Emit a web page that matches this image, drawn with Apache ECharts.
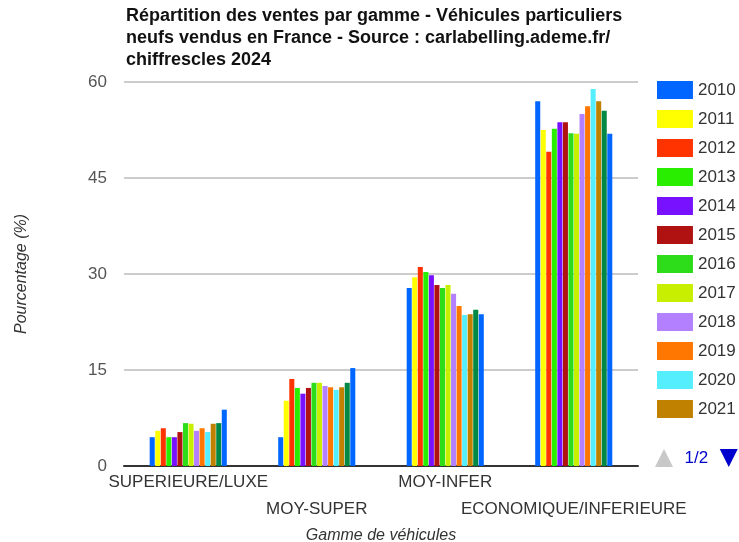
<!DOCTYPE html>
<html>
<head>
<meta charset="utf-8">
<script src="https://cdn.jsdelivr.net/npm/echarts@6/dist/echarts.min.js"></script>
<style>
  html, body { margin: 0; padding: 0; background: #fff; }
  #chart { width: 739px; height: 542px; }
</style>
</head>
<body>
<div id="chart"></div>
<script>
// gammes de véhicules
const categories = ['SUPERIEURE/LUXE', 'MOY-SUPER', 'MOY-INFER', 'ECONOMIQUE/INFERIEURE'];
const years = ['2010', '2011', '2012', '2013', '2014', '2015', '2016', '2017', '2018', '2019', '2020', '2021', '2022', '2023'];

// parts (%) par gamme, une liste par année
const v2010 = [4.5, 4.5, 27.8, 57.0];
const v2011 = [5.5, 10.2, 29.5, 52.5];
const v2012 = [5.9, 13.6, 31.1, 49.1];
const v2013 = [4.5, 12.2, 30.3, 52.7];
const v2014 = [4.5, 11.3, 29.8, 53.7];
const v2015 = [5.3, 12.2, 28.3, 53.7];
const v2016 = [6.7, 13.0, 27.8, 52.0];
const v2017 = [6.6, 13.0, 28.3, 51.9];
const v2018 = [5.5, 12.5, 26.9, 55.0];
const v2019 = [5.9, 12.3, 25.0, 56.2];
const v2020 = [5.3, 11.9, 23.6, 58.9];
const v2021 = [6.6, 12.3, 23.7, 57.0];
const v2022 = [6.7, 13.0, 24.4, 55.5];
const v2023 = [8.8, 15.3, 23.7, 51.9];
const values = [v2010, v2011, v2012, v2013, v2014, v2015, v2016, v2017, v2018, v2019, v2020, v2021, v2022, v2023];

const colors = ['#0066ff', '#ffff00', '#ff3300', '#2aee00', '#7711ff', '#b01111', '#2ddd1a',
  '#c8ee00', '#b380ff', '#ff7700', '#55eeff', '#c08000', '#008844'];

const chart = echarts.init(document.getElementById('chart'));

chart.setOption({
  color: colors,
  textStyle: { fontFamily: 'Liberation Sans, Arial, sans-serif' },
  title: {
    text: 'Répartition des ventes par gamme - Véhicules particuliers\nneufs vendus en France - Source : carlabelling.ademe.fr/\nchiffrescles 2024',
    left: 121,
    top: 0,
    textStyle: { fontSize: 18, fontWeight: 'bold', color: '#111', lineHeight: 22 }
  },
  legend: {
    type: 'scroll',
    orient: 'vertical',
    left: 655,
    top: 81,
    height: 386,
    padding: 0,
    itemWidth: 36,
    itemHeight: 18,
    itemGap: 11,
    icon: 'rect',
    textStyle: { fontSize: 17, color: '#333' },
    pageIconColor: '#0000cc',
    pageIconInactiveColor: '#c8c8c8',
    pageIconSize: 18,
    pageButtonItemGap: 4,
    pageButtonGap: 22,
    pageTextStyle: { color: '#0000cc', fontSize: 17 },
    data: years
  },
  grid: { left: 124, right: 101, top: 82, bottom: 76, outerBoundsMode: 'none' },
  xAxis: {
    type: 'category',
    data: categories,
    name: 'Gamme de véhicules',
    nameLocation: 'middle',
    nameGap: 58,
    nameTextStyle: { fontStyle: 'italic', fontSize: 16, color: '#333' },
    axisLine: { lineStyle: { color: '#333', width: 2 } },
    axisTick: { show: false },
    axisLabel: {
      interval: 0,
      fontSize: 17,
      color: '#333',
      lineHeight: 27,
      margin: 3,
      formatter: (val, i) => (i % 2 === 1 ? '\n' + val : val)
    }
  },
  yAxis: {
    type: 'value',
    min: 0,
    max: 60,
    interval: 15,
    name: 'Pourcentage (%)',
    nameLocation: 'middle',
    nameGap: 94,
    nameTextStyle: { fontStyle: 'italic', fontSize: 16, color: '#333' },
    axisLine: { show: false },
    axisTick: { show: false },
    axisLabel: { fontSize: 17, color: '#555', margin: 17 },
    splitLine: { lineStyle: { color: '#cccccc', width: 2 } }
  },
  series: years.map((y, i) => ({
    name: y,
    type: 'bar',
    data: values[i],
    barGap: '10%',
    barCategoryGap: '40%'
  }))
});
</script>
</body>
</html>
